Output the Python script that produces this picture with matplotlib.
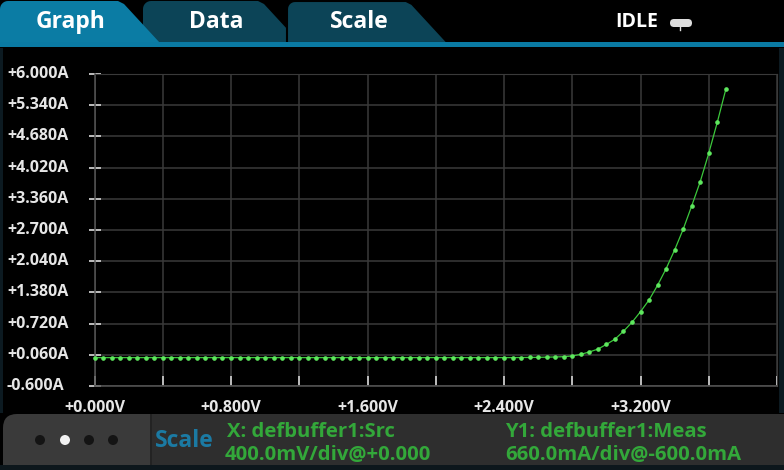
import numpy as np
import matplotlib
matplotlib.use('Agg')
import matplotlib.pyplot as plt
from matplotlib.patches import Polygon, Rectangle, FancyBboxPatch, Circle
from matplotlib.transforms import blended_transform_factory

plt.rcParams['font.family'] = ['Open Sans', 'DejaVu Sans']

volts = [0.00, 0.05, 0.10, 0.15, 0.20, 0.25, 0.30, 0.35, 0.40, 0.45,
         0.50, 0.55, 0.60, 0.65, 0.70, 0.75, 0.80, 0.85, 0.90, 0.95,
         1.00, 1.05, 1.10, 1.15, 1.20, 1.25, 1.30, 1.35, 1.40, 1.45,
         1.50, 1.55, 1.60, 1.65, 1.70, 1.75, 1.80, 1.85, 1.90, 1.95,
         2.00, 2.05, 2.10, 2.15, 2.20, 2.25, 2.30, 2.35, 2.40, 2.45,
         2.50, 2.55, 2.60, 2.65, 2.70, 2.75, 2.80, 2.85, 2.90, 2.95,
         3.00, 3.05, 3.10, 3.15, 3.20, 3.25, 3.30, 3.35, 3.40, 3.45,
         3.50, 3.55, 3.60, 3.65, 3.70]
amps = [0.0] * 50 + [0.002, 0.004, 0.006, 0.010, 0.014, 0.020, 0.035, 0.070, 0.120, 0.180,
                     0.280, 0.390, 0.557, 0.747, 0.972, 1.219, 1.530, 1.881, 2.277, 2.715,
                     3.208, 3.722, 4.323, 4.978, 5.676]

y_ticks = [-0.600, 0.060, 0.720, 1.380, 2.040, 2.700, 3.360, 4.020, 4.680, 5.340, 6.000]
y_labels = ['-0.600A', '+0.060A', '+0.720A', '+1.380A', '+2.040A', '+2.700A',
            '+3.360A', '+4.020A', '+4.680A', '+5.340A', '+6.000A']
x_ticks = [0.0, 0.4, 0.8, 1.2, 1.6, 2.0, 2.4, 2.8, 3.2, 3.6, 4.0]
x_label_pos = [0.0, 0.8, 1.6, 2.4, 3.2]
x_labels = ['+0.000V', '+0.800V', '+1.600V', '+2.400V', '+3.200V']
tabs = ['Graph', 'Data', 'Scale']

W, H = 784, 470
fig = plt.figure(figsize=(W / 100, H / 100), dpi=100, facecolor='black')

# pixel-space background layer for the instrument screen chrome
bg = fig.add_axes([0, 0, 1, 1], zorder=0)
bg.set_xlim(0, W)
bg.set_ylim(H, 0)
bg.axis('off')
bg.set_facecolor('black')


def tab_shape(xl, xr_top, xr_bot, color, edge='none'):
    r = 8
    a = np.linspace(np.pi, 1.5 * np.pi, 8)
    corner = np.column_stack([xl + r + r * np.cos(a), 1 + r + r * np.sin(a)])
    pts = [(xl, 43)] + corner.tolist() + [(xr_top - 4, 1), (xr_top + 2, 4), (xr_bot, 43)]
    bg.add_patch(Polygon(pts, closed=True, facecolor=color, edgecolor=edge, lw=1.5))


tab_shape(143, 262, 300, '#0c4457')
tab_shape(287, 410, 448, '#0c4457', edge='black')
tab_shape(0, 122, 160, '#0b7ca4')
bg.add_patch(Rectangle((0, 42), W, 5, facecolor='#0a7aa3', edgecolor='none'))
for name, cx in zip(tabs, [71, 216, 359]):
    bg.text(cx, 22, name, color='white', fontsize=16.5, fontweight='bold', ha='center', va='center')

bg.text(615, 22, 'IDLE', color='white', fontsize=14, fontweight='bold', ha='left', va='center')
bg.add_patch(FancyBboxPatch((670, 19), 22, 8, boxstyle='round,pad=0,rounding_size=4',
                            facecolor='#dedede', edgecolor='none'))
bg.plot([680, 680], [27, 30], color='#dedede', lw=1)

# side borders
bg.add_patch(Rectangle((0, 48), 3, 365, facecolor='#0c1a21', edgecolor='none'))
bg.add_patch(Rectangle((779, 48), 5, 365, facecolor='#0c1a21', edgecolor='none'))

# bottom status panel
bg.add_patch(FancyBboxPatch((3, 414), 170, 80, boxstyle='round,pad=0,rounding_size=14',
                            facecolor='#3a3a3a', edgecolor='none'))
bg.add_patch(Rectangle((150, 414), W - 150, 51, facecolor='#2e2e2e', edgecolor='none'))
bg.add_patch(Rectangle((150, 414), 2, 51, facecolor='#232323', edgecolor='none'))
bg.add_patch(Rectangle((0, 465), W, 5, facecolor='#0d171c', edgecolor='none'))
for i, cx in enumerate([40, 65, 89, 113]):
    bg.add_patch(Circle((cx, 440), 5, facecolor='#f2f2f2' if i == 1 else '#141414', edgecolor='none'))

bg.text(155, 441, 'Scale', color='#1b7aa3', fontsize=16.5, fontweight='bold', ha='left', va='center')
green = '#33a83a'
bg.text(227, 437, 'X: defbuffer1:Src', color=green, fontsize=14.6, fontweight='bold', ha='left', va='baseline')
bg.text(225, 460, '400.0mV/div@+0.000', color=green, fontsize=14.6, fontweight='bold', ha='left', va='baseline')
bg.text(505, 437, 'Y1: defbuffer1:Meas', color=green, fontsize=14.6, fontweight='bold', ha='left', va='baseline')
bg.text(505, 460, '660.0mA/div@-600.0mA', color=green, fontsize=14.6, fontweight='bold', ha='left', va='baseline')

# the graph itself
x0, x1, y0, y1 = 94.5, 777, 386, 74
ax = fig.add_axes([x0 / W, (H - y0) / H, (x1 - x0) / W, (y0 - y1) / H], zorder=1)
ax.set_facecolor('none')
ax.set_xlim(0, 4.0)
ax.set_ylim(-0.6, 6.0)
ax.set_xticks(x_ticks)
ax.set_yticks(y_ticks)
ax.set_xticklabels([])
ax.set_yticklabels([])
ax.grid(True, color='#3a3a3a', lw=1.1)
for s in ['top', 'right']:
    ax.spines[s].set_color('#3a3a3a')
for s in ['left', 'bottom']:
    ax.spines[s].set_color('#555555')
    ax.spines[s].set_linewidth(1.1)
ax.tick_params(axis='both', direction='in', length=7.5, width=1.4, color='#bdbdbd')
ax.tick_params(axis='y', direction='inout', length=9)

ax.plot(volts, amps, color='#3cc83c', lw=0.9, marker='o', markersize=2.3,
        markerfacecolor='#5ee85e', markeredgecolor='#5ee85e', clip_on=False, zorder=3)

ylab_tf = blended_transform_factory(bg.transData, ax.transData)
for v, lab in zip(y_ticks, y_labels):
    ax.text(7, v, lab, transform=ylab_tf, color='#e6e6e6', fontsize=11.5, fontweight='bold',
            ha='left', va='center')
xlab_tf = blended_transform_factory(ax.transData, bg.transData)
for v, lab in zip(x_label_pos, x_labels):
    ax.text(v, 408, lab, transform=xlab_tf, color='#e6e6e6', fontsize=11.5, fontweight='bold',
            ha='center', va='center', clip_on=False)

fig.savefig('out.png', dpi=100, facecolor='black')
